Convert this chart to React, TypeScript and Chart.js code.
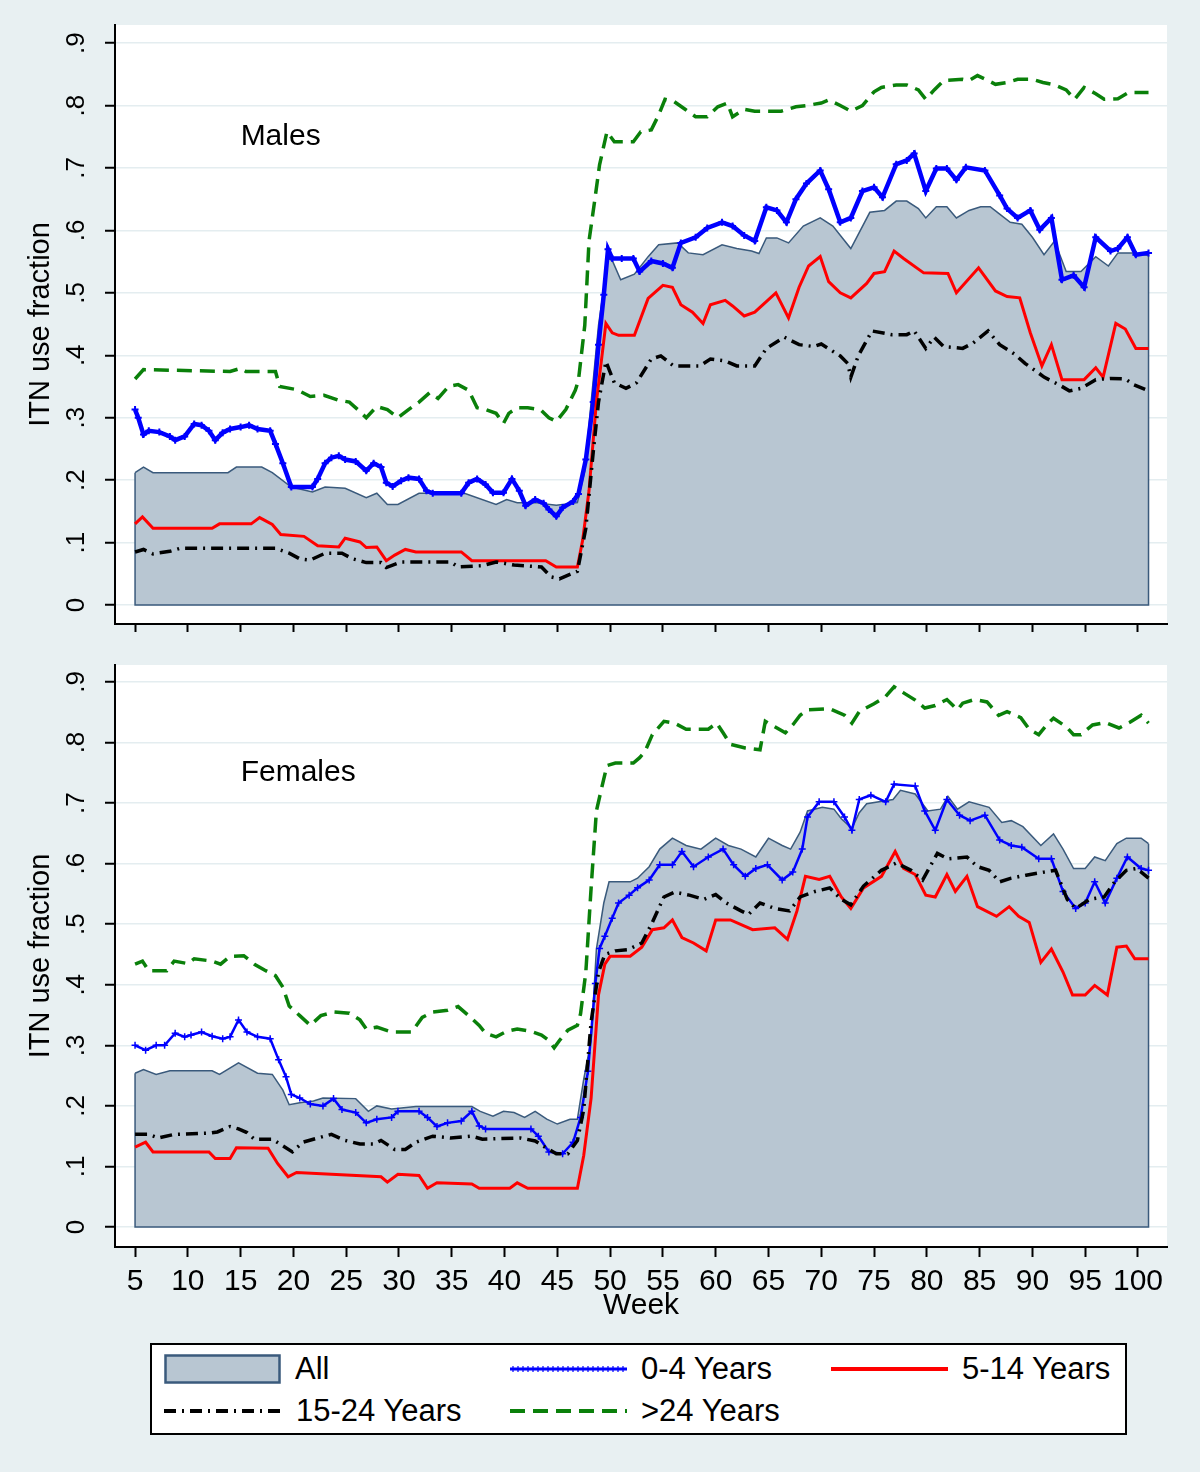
import React, { useEffect, useRef } from 'react';
import { Chart, registerables } from 'chart.js';

Chart.register(...registerables);

type Pair = [number, number];

// ---------- axis ticks / labels ----------
const X_TICKS = [5, 10, 15, 20, 25, 30, 35, 40, 45, 50, 55, 60, 65, 70, 75, 80, 85, 90, 95, 100];
const Y_TICKS = [0, 0.1, 0.2, 0.3, 0.4, 0.5, 0.6, 0.7, 0.8, 0.9];
const SERIES_LABELS = ['All', '0-4 Years', '5-14 Years', '15-24 Years', '>24 Years'];
const PANEL_TITLES = ['Males', 'Females'];
const X_TITLE = 'Week';
const Y_TITLE = 'ITN use fraction';

// ---------- Males: [week, fraction] ----------
const MALE_ALL: Pair[] = [[5,0.212],[5.8,0.221],[6.7,0.212],[13.8,0.212],[14.6,0.221],[17,0.221],[18,0.212],[19.8,0.189],[21.8,0.181],[23,0.189],[24.9,0.187],[26.9,0.172],[27.9,0.179],[28.9,0.161],[29.9,0.161],[31.9,0.179],[36.2,0.179],[39.2,0.161],[40.2,0.169],[41.2,0.164],[42.9,0.164],[44.9,0.16],[46.9,0.164],[47.6,0.215],[48.2,0.325],[48.9,0.448],[49.8,0.555],[50.2,0.552],[51,0.521],[52.3,0.53],[53.6,0.558],[54.6,0.577],[56.4,0.58],[57.4,0.564],[58.8,0.561],[60.6,0.577],[62,0.571],[63.4,0.567],[64.1,0.563],[64.8,0.588],[65.8,0.588],[66.9,0.58],[68.3,0.607],[69.9,0.62],[71.1,0.607],[72.8,0.571],[74.6,0.629],[76,0.632],[77.1,0.647],[78.1,0.647],[79.2,0.635],[79.9,0.62],[80.9,0.638],[81.9,0.638],[82.8,0.62],[84,0.632],[85.1,0.638],[86,0.638],[86.9,0.626],[87.9,0.613],[89,0.61],[90,0.589],[91.1,0.561],[92.1,0.583],[93.2,0.534],[94.6,0.534],[96,0.558],[97.2,0.543],[98.1,0.564],[99.5,0.564],[101,0.56]];
const MALE_0_4: Pair[] = [[5,0.313],[5.3,0.3],[5.8,0.273],[6.3,0.279],[7.3,0.277],[8.3,0.27],[8.8,0.264],[9.7,0.27],[10.6,0.29],[11.3,0.288],[12,0.279],[12.6,0.264],[13.3,0.276],[14,0.282],[15,0.285],[15.8,0.288],[16.6,0.282],[17.8,0.279],[18.3,0.258],[19,0.227],[19.8,0.189],[21.8,0.189],[22.3,0.202],[23,0.227],[23.6,0.236],[24.3,0.239],[24.9,0.233],[25.9,0.23],[26.9,0.215],[27.6,0.227],[28.3,0.221],[28.8,0.196],[29.4,0.19],[30.2,0.199],[30.9,0.204],[31.9,0.202],[32.6,0.183],[33.2,0.179],[35.9,0.179],[36.6,0.196],[37.4,0.202],[38.2,0.193],[38.9,0.18],[39.9,0.18],[40.7,0.202],[41.4,0.183],[42,0.159],[42.9,0.169],[43.7,0.163],[44.2,0.153],[44.9,0.142],[45.5,0.156],[46.5,0.166],[47,0.178],[47.7,0.233],[48.4,0.325],[48.9,0.417],[49.4,0.497],[49.8,0.57],[50.2,0.555],[51.1,0.555],[52.2,0.555],[52.8,0.534],[53.9,0.551],[55,0.547],[55.9,0.54],[56.7,0.58],[58.1,0.589],[59.2,0.604],[60.6,0.613],[61.6,0.607],[62.7,0.592],[63.7,0.583],[64.8,0.637],[65.8,0.632],[66.7,0.613],[67.6,0.65],[68.6,0.675],[69.9,0.696],[70.7,0.666],[71.8,0.613],[72.8,0.62],[73.9,0.663],[75,0.669],[75.8,0.653],[77.1,0.706],[78.1,0.712],[78.8,0.723],[79.9,0.663],[80.9,0.699],[81.9,0.699],[82.8,0.681],[83.7,0.701],[85.5,0.696],[86.9,0.656],[87.6,0.635],[88.6,0.62],[89.8,0.632],[90.7,0.601],[91.8,0.62],[92.8,0.521],[93.9,0.528],[94.9,0.509],[96,0.589],[97.4,0.567],[98.1,0.571],[99,0.589],[99.8,0.561],[101,0.564]];
const MALE_5_14: Pair[] = [[5,0.13],[5.7,0.141],[6.7,0.123],[12.3,0.123],[13,0.13],[16,0.13],[16.8,0.14],[18,0.129],[18.8,0.113],[21,0.11],[22.3,0.095],[24.3,0.093],[24.9,0.107],[26.3,0.101],[26.9,0.092],[27.9,0.093],[28.8,0.071],[29.6,0.08],[30.6,0.089],[31.6,0.085],[35.9,0.085],[36.9,0.071],[43.9,0.071],[44.9,0.061],[46.9,0.061],[47.4,0.104],[48,0.183],[48.7,0.325],[49.6,0.451],[50.2,0.436],[50.8,0.432],[52.3,0.432],[53.6,0.491],[55,0.512],[55.9,0.509],[56.7,0.481],[57.8,0.469],[58.8,0.451],[59.5,0.481],[60.9,0.488],[61.6,0.479],[62.7,0.463],[63.7,0.469],[65.7,0.5],[66.9,0.46],[67.9,0.509],[68.8,0.543],[69.9,0.558],[70.7,0.518],[71.8,0.5],[72.8,0.492],[74.3,0.515],[75,0.531],[76,0.534],[76.9,0.567],[77.8,0.555],[79.7,0.532],[82,0.531],[82.8,0.5],[84.9,0.54],[86.5,0.503],[87.6,0.494],[88.8,0.492],[89.8,0.436],[90.9,0.383],[91.8,0.417],[92.8,0.361],[94.9,0.361],[96,0.38],[96.7,0.365],[97.9,0.451],[98.8,0.442],[99.8,0.411],[101,0.411]];
const MALE_15_24: Pair[] = [[5,0.085],[5.8,0.089],[6.7,0.082],[8.3,0.086],[9.3,0.091],[18.3,0.091],[19.6,0.083],[20.6,0.074],[21.6,0.072],[23,0.083],[24.6,0.083],[25.6,0.074],[26.9,0.068],[28.3,0.068],[28.8,0.06],[30.2,0.069],[34.9,0.069],[35.6,0.061],[37.9,0.063],[39.2,0.069],[40.9,0.064],[43.5,0.061],[44.4,0.045],[45.2,0.042],[46.9,0.054],[47.7,0.123],[48.4,0.245],[48.9,0.325],[49.6,0.39],[50.4,0.356],[51.5,0.347],[52.5,0.356],[53.9,0.394],[54.8,0.399],[56,0.383],[58.5,0.383],[59.5,0.394],[60.9,0.391],[62,0.383],[63.7,0.383],[64.8,0.411],[66.5,0.429],[67.9,0.417],[69.3,0.414],[70,0.418],[71.8,0.399],[72.5,0.387],[72.8,0.365],[73.5,0.399],[74.8,0.439],[76.7,0.433],[78.1,0.433],[78.8,0.439],[79.9,0.411],[80.7,0.429],[81.6,0.414],[83.4,0.411],[84.4,0.42],[85.8,0.439],[86.9,0.417],[88.3,0.402],[89.3,0.387],[90.4,0.374],[91.1,0.365],[92.5,0.353],[93.5,0.343],[94.6,0.347],[96,0.361],[97.4,0.363],[98.8,0.362],[99.6,0.353],[101,0.343]];
const MALE_OVER_24: Pair[] = [[5,0.362],[5.8,0.377],[14,0.374],[15,0.379],[15.5,0.374],[18.3,0.374],[18.7,0.35],[20.3,0.345],[21.6,0.334],[22.9,0.336],[24.3,0.328],[25.3,0.325],[26.1,0.313],[26.9,0.3],[27.9,0.318],[28.9,0.313],[29.9,0.3],[30.9,0.313],[31.9,0.325],[32.9,0.34],[33.7,0.331],[34.7,0.35],[35.6,0.353],[36.6,0.344],[37.4,0.316],[38.2,0.313],[39.2,0.307],[39.9,0.291],[40.4,0.307],[41.2,0.316],[42.2,0.316],[43.4,0.313],[44.2,0.3],[44.9,0.294],[45.8,0.313],[46.7,0.344],[47,0.36],[47.6,0.448],[48,0.583],[48.5,0.643],[49,0.705],[49.7,0.758],[50.4,0.742],[52.2,0.742],[52.9,0.758],[53.9,0.761],[54.6,0.785],[55.2,0.81],[56,0.807],[57.1,0.794],[58.1,0.782],[59.2,0.782],[60.2,0.798],[61.1,0.804],[61.6,0.782],[62.7,0.794],[63.7,0.791],[66.2,0.791],[67.6,0.798],[68.6,0.8],[70,0.804],[70.7,0.809],[71.8,0.8],[72.8,0.791],[73.9,0.8],[75,0.822],[75.7,0.829],[77.1,0.833],[78.1,0.833],[79.2,0.825],[79.9,0.81],[80.7,0.825],[81.6,0.84],[83.4,0.842],[84,0.84],[84.8,0.848],[85.8,0.84],[86.5,0.834],[87.6,0.837],[88.6,0.842],[90,0.842],[91,0.837],[92.1,0.833],[93.2,0.825],[94,0.81],[94.9,0.829],[96,0.819],[96.8,0.81],[98.1,0.811],[99.1,0.821],[101,0.821]];

// ---------- Females: [week, fraction] ----------
const FEMALE_ALL: Pair[] = [[5,0.254],[5.8,0.26],[7,0.252],[8.3,0.258],[12.3,0.258],[13,0.252],[14.8,0.271],[16.6,0.254],[18,0.252],[19,0.226],[19.6,0.202],[20.6,0.205],[21.9,0.208],[22.8,0.213],[25.9,0.212],[27.1,0.191],[27.9,0.2],[29.3,0.195],[31.6,0.199],[36.9,0.199],[37.7,0.191],[38.9,0.183],[39.9,0.191],[40.9,0.189],[41.9,0.181],[42.9,0.191],[44,0.178],[45,0.17],[46.2,0.178],[46.9,0.178],[47.5,0.244],[48.2,0.308],[48.7,0.459],[49.4,0.535],[49.9,0.57],[51.9,0.57],[52.6,0.576],[53.7,0.595],[54.7,0.624],[55.9,0.642],[57.2,0.63],[58.6,0.624],[60,0.642],[61.2,0.63],[62.4,0.624],[63.8,0.611],[65,0.642],[66.3,0.63],[67.1,0.624],[68,0.652],[68.7,0.687],[70.1,0.693],[71.2,0.69],[71.9,0.674],[72.9,0.658],[73.6,0.684],[74.3,0.699],[76.8,0.706],[77.5,0.721],[78.9,0.715],[80.1,0.687],[81.3,0.69],[82,0.711],[82.9,0.69],[84,0.702],[85.9,0.693],[87.1,0.668],[88,0.671],[89.1,0.661],[90.8,0.63],[92,0.649],[92.9,0.624],[93.9,0.592],[95,0.592],[95.9,0.611],[96.9,0.605],[98,0.633],[98.9,0.642],[100.3,0.642],[101,0.633]];
const FEMALE_0_4: Pair[] = [[5,0.3],[6,0.292],[7,0.3],[7.8,0.3],[8.8,0.32],[9.7,0.314],[10.3,0.317],[11.3,0.322],[12.3,0.315],[13.3,0.311],[14,0.314],[14.8,0.342],[15.6,0.322],[16.6,0.314],[17.8,0.311],[18.6,0.276],[19.3,0.248],[19.8,0.219],[20.6,0.213],[21.6,0.203],[22.8,0.2],[23.8,0.212],[24.6,0.194],[25.9,0.189],[26.9,0.172],[27.9,0.178],[29.3,0.181],[29.9,0.191],[31.9,0.191],[32.7,0.181],[33.6,0.166],[34.6,0.172],[35.9,0.175],[36.9,0.191],[37.6,0.167],[38.2,0.162],[42.5,0.162],[43.2,0.15],[44.2,0.124],[45.5,0.121],[46.5,0.14],[47.2,0.181],[47.9,0.257],[48.6,0.402],[49,0.46],[49.5,0.48],[50.2,0.51],[50.8,0.535],[51.8,0.548],[52.6,0.56],[53.7,0.573],[54.7,0.598],[55.9,0.598],[56.8,0.62],[57.9,0.595],[59.3,0.611],[60.7,0.624],[61.7,0.598],[62.8,0.579],[63.8,0.592],[64.9,0.598],[66.3,0.573],[67.3,0.586],[68.2,0.624],[68.7,0.677],[69.8,0.702],[71.2,0.702],[72.2,0.677],[72.9,0.655],[73.6,0.706],[74.7,0.713],[76.1,0.702],[76.9,0.731],[78.9,0.728],[79.8,0.687],[80.8,0.655],[81.9,0.706],[83.1,0.68],[84.1,0.671],[85.5,0.68],[86.9,0.639],[88,0.63],[89,0.627],[90.6,0.608],[91.8,0.608],[92.9,0.554],[94.1,0.526],[95,0.535],[95.9,0.57],[96.9,0.535],[98,0.576],[99,0.611],[100.3,0.592],[101,0.589]];
const FEMALE_5_14: Pair[] = [[5,0.132],[6,0.14],[6.7,0.124],[12,0.124],[12.6,0.113],[14,0.113],[14.6,0.131],[17.6,0.13],[18.5,0.105],[19.5,0.083],[20.3,0.09],[28.3,0.083],[28.9,0.074],[29.9,0.087],[31.9,0.085],[32.7,0.064],[33.6,0.073],[36.9,0.071],[37.6,0.064],[40.5,0.064],[41.2,0.073],[42.2,0.064],[46.9,0.064],[47.5,0.118],[48.2,0.213],[48.9,0.383],[49.5,0.434],[50,0.447],[51.9,0.447],[53,0.462],[54,0.491],[55.1,0.494],[55.9,0.507],[56.8,0.478],[57.9,0.469],[59.1,0.456],[60,0.507],[61.4,0.507],[63.5,0.491],[65.6,0.494],[66.8,0.475],[67.7,0.522],[68.5,0.579],[69.8,0.574],[70.8,0.579],[71.9,0.545],[72.8,0.526],[74,0.56],[75.7,0.579],[77,0.62],[77.8,0.592],[78.9,0.582],[79.9,0.548],[80.8,0.545],[81.9,0.582],[82.7,0.554],[83.8,0.579],[84.8,0.529],[86.6,0.513],[87.8,0.529],[88.7,0.513],[89.7,0.503],[90.8,0.437],[91.8,0.459],[92.9,0.421],[93.8,0.383],[95,0.383],[95.9,0.399],[97.1,0.383],[98,0.462],[98.9,0.464],[99.7,0.443],[101,0.443]];
const FEMALE_15_24: Pair[] = [[5,0.153],[6.3,0.153],[7.2,0.147],[8.7,0.153],[12,0.155],[12.8,0.157],[14,0.166],[14.8,0.162],[15.6,0.156],[16.3,0.145],[18,0.145],[19,0.134],[19.9,0.124],[20.9,0.14],[22.3,0.147],[23.6,0.153],[24.9,0.143],[26.3,0.137],[27.6,0.137],[28.3,0.143],[29.6,0.128],[30.6,0.128],[31.6,0.14],[33.2,0.15],[34.9,0.147],[36.9,0.15],[37.9,0.145],[41.5,0.147],[42.9,0.142],[43.9,0.131],[44.9,0.121],[46,0.121],[46.9,0.143],[47.5,0.194],[48.2,0.339],[48.9,0.421],[49.5,0.45],[50.5,0.456],[51.7,0.458],[53,0.469],[54,0.503],[55.1,0.545],[56.1,0.553],[57.5,0.548],[58.9,0.541],[60,0.549],[61,0.535],[62.4,0.522],[63.1,0.516],[64.2,0.535],[65.6,0.526],[67,0.522],[68,0.545],[69.4,0.554],[70.8,0.56],[71.9,0.541],[72.8,0.532],[74,0.563],[75.7,0.589],[77.1,0.601],[78.5,0.589],[79.6,0.573],[81,0.617],[82,0.608],[83.8,0.611],[84.8,0.595],[85.9,0.589],[86.9,0.57],[88,0.576],[89.4,0.581],[91.1,0.586],[92.2,0.589],[93.3,0.541],[94.1,0.526],[95.4,0.541],[96.8,0.545],[97.8,0.57],[98.9,0.589],[99.9,0.592],[101,0.576]];
const FEMALE_OVER_24: Pair[] = [[5,0.434],[5.7,0.439],[6.3,0.423],[8,0.423],[8.7,0.439],[10,0.435],[10.6,0.443],[12.3,0.439],[13.1,0.434],[14,0.447],[15.3,0.448],[16.3,0.434],[17.3,0.424],[18.3,0.415],[19,0.396],[19.6,0.365],[20.6,0.349],[21.6,0.333],[22.6,0.349],[23.8,0.355],[25.3,0.353],[26.3,0.342],[26.9,0.327],[27.9,0.33],[29.3,0.322],[31.2,0.322],[32.2,0.346],[33.2,0.355],[34.6,0.358],[35.6,0.364],[36.6,0.349],[37.6,0.333],[38.2,0.32],[39.2,0.314],[40.2,0.323],[41.2,0.327],[42.5,0.323],[43.5,0.317],[44.2,0.308],[44.7,0.296],[45.2,0.308],[46,0.325],[46.9,0.333],[47.2,0.352],[47.7,0.421],[48.2,0.56],[48.7,0.687],[49.2,0.725],[49.7,0.762],[50.5,0.766],[52.2,0.766],[52.8,0.775],[53.3,0.785],[54,0.813],[55.1,0.835],[56.1,0.832],[57.2,0.822],[59.3,0.822],[60.1,0.832],[60.7,0.816],[61.4,0.797],[62.8,0.791],[64.2,0.788],[64.7,0.835],[65.6,0.826],[66.6,0.816],[67.3,0.829],[68,0.845],[68.7,0.854],[70.8,0.856],[72.2,0.845],[72.9,0.832],[73.6,0.851],[75,0.864],[76.1,0.876],[76.9,0.892],[77.8,0.882],[78.9,0.87],[79.8,0.857],[80.8,0.861],[81.9,0.871],[82.9,0.854],[83.4,0.865],[84.5,0.871],[85.7,0.867],[86.8,0.845],[87.6,0.851],[88.9,0.841],[89.7,0.822],[90.6,0.813],[91.5,0.832],[92,0.84],[93.2,0.826],[93.9,0.813],[94.6,0.813],[95.7,0.829],[96.9,0.833],[98.2,0.824],[99.2,0.833],[100.3,0.845],[101,0.832]];

// ---------- styling ----------
const FONT = '"Liberation Sans", Arial, Helvetica, sans-serif';
const PAGE_BG = '#e8f0f2';
const GRID = '#e4edf0';
const AREA_FILL = '#b8c6d2';
const AREA_LINE = '#3a5a7c';
const BLUE = '#0000ff';
const RED = '#ff0000';
const GREEN = '#0a800a';
const BLACK = '#000000';
const DASH_DOT = [12, 6, 2, 6];
const DASHED = [15, 8];

const xy = (p: Pair[]) => p.map(([x, y]) => ({ x, y }));

const whiteArea = {
  id: 'whiteArea',
  beforeDraw(chart: any) {
    const { ctx, chartArea: a } = chart;
    ctx.save();
    ctx.fillStyle = '#ffffff';
    ctx.fillRect(a.left, a.top, a.right - a.left, a.bottom - a.top);
    ctx.restore();
  },
};

const areaOutline = {
  id: 'areaOutline',
  afterDatasetDraw(chart: any, args: any) {
    const ds = chart.data.datasets[args.index];
    if (ds.label !== SERIES_LABELS[0]) return;
    const pts = args.meta.data;
    if (!pts || !pts.length) return;
    const y0 = chart.scales.y.getPixelForValue(0);
    const f = pts[0];
    const l = pts[pts.length - 1];
    const ctx = chart.ctx;
    ctx.save();
    ctx.strokeStyle = AREA_LINE;
    ctx.lineWidth = 1.5;
    ctx.beginPath();
    ctx.moveTo(f.x, f.y);
    ctx.lineTo(f.x, y0);
    ctx.lineTo(l.x, y0);
    ctx.lineTo(l.x, l.y);
    ctx.stroke();
    ctx.restore();
  },
};

const panelLabel = {
  id: 'panelLabel',
  afterDatasetsDraw(chart: any, _args: any, opts: any) {
    const { ctx, scales } = chart;
    ctx.save();
    ctx.font = `30px ${FONT}`;
    ctx.fillStyle = '#000';
    ctx.textAlign = 'left';
    ctx.textBaseline = 'middle';
    ctx.fillText(opts.text, scales.x.getPixelForValue(opts.x), scales.y.getPixelForValue(opts.y));
    ctx.restore();
  },
};

function buildDatasets(all: Pair[], a04: Pair[], a514: Pair[], a1524: Pair[], a24: Pair[], top: boolean) {
  return [
    { label: SERIES_LABELS[4], data: xy(a24), borderColor: GREEN, borderWidth: 3.5, borderDash: DASHED, pointRadius: 0, fill: false, order: 1 },
    { label: SERIES_LABELS[3], data: xy(a1524), borderColor: BLACK, borderWidth: 3.5, borderDash: DASH_DOT, pointRadius: 0, fill: false, order: 2 },
    { label: SERIES_LABELS[2], data: xy(a514), borderColor: RED, borderWidth: 3, pointRadius: 0, fill: false, order: 3 },
    {
      label: SERIES_LABELS[1], data: xy(a04), borderColor: BLUE, borderWidth: top ? 4.5 : 2.5,
      pointStyle: 'cross', pointRadius: 3.5, pointBorderWidth: top ? 2 : 1.5, pointBorderColor: BLUE, pointBackgroundColor: BLUE,
      fill: false, order: 4,
    },
    { label: SERIES_LABELS[0], data: xy(all), borderColor: AREA_LINE, borderWidth: 1.5, backgroundColor: AREA_FILL, fill: 'origin', pointRadius: 0, order: 5 },
  ];
}

function makeConfig(p: {
  title: string; padTop: number; xHeight: number; xTickLen: number; showX: boolean; yMin: number; yMax: number;
  datasets: any[];
}) {
  return {
    type: 'line' as const,
    data: { datasets: p.datasets },
    plugins: [whiteArea, areaOutline, panelLabel],
    options: {
      responsive: false,
      animation: false,
      events: [],
      parsing: false,
      layout: { padding: { top: p.padTop, right: 33, left: 0, bottom: 0 } },
      elements: { line: { tension: 0 } },
      plugins: {
        legend: { display: false },
        tooltip: { enabled: false },
        panelLabel: { text: p.title, x: 15, y: 0.75 },
      },
      scales: {
        x: {
          type: 'linear',
          min: 3.1,
          max: 102.75,
          afterBuildTicks: (s: any) => { s.ticks = X_TICKS.map((v) => ({ value: v })); },
          afterFit: (s: any) => { s.height = p.xHeight; s.paddingLeft = 0; s.paddingRight = 0; },
          grid: { drawOnChartArea: false, drawTicks: true, tickLength: p.xTickLen, tickColor: '#000', tickWidth: 2 },
          border: { display: true, color: '#000', width: 2 },
          ticks: {
            display: p.showX, autoSkip: false, maxRotation: 0, minRotation: 0, padding: 7, color: '#000',
            font: { size: 30, family: FONT }, callback: (v: any) => String(v),
          },
          title: { display: p.showX, text: X_TITLE, color: '#000', font: { size: 30, family: FONT }, padding: { top: 0, bottom: 6 } },
        },
        y: {
          type: 'linear',
          min: p.yMin,
          max: p.yMax,
          afterBuildTicks: (s: any) => { s.ticks = Y_TICKS.map((v) => ({ value: v })); },
          afterFit: (s: any) => { s.width = 115; s.paddingTop = 0; s.paddingBottom = 0; },
          grid: { color: GRID, lineWidth: 1.5, drawTicks: true, tickLength: 10, tickColor: '#000', tickWidth: 2 },
          border: { display: true, color: '#000', width: 2 },
          ticks: {
            minRotation: 90, maxRotation: 90, crossAlign: 'center', padding: 17, color: '#000',
            font: { size: 26, family: FONT },
            callback: (v: any) => (v === 0 ? '0' : '.' + Math.round(v * 10)),
          },
          title: { display: true, text: Y_TITLE, color: '#000', font: { size: 29, family: FONT }, padding: { top: 24, bottom: 0 } },
        },
      },
    },
  };
}

function LegendSwatch({ kind }: { kind: string }) {
  const w = 117;
  const h = 30;
  const mid = h / 2;
  if (kind === 'area') {
    return (
      <svg width={w} height={h}>
        <rect x={1.5} y={1.5} width={w - 3} height={h - 3} fill={AREA_FILL} stroke={AREA_LINE} strokeWidth={2.5} />
      </svg>
    );
  }
  if (kind === 'blue') {
    const crosses = [];
    for (let x = 3; x < w; x += 5) {
      crosses.push(<line key={x} x1={x} y1={mid - 3} x2={x} y2={mid + 3} stroke={BLUE} strokeWidth={1.2} />);
    }
    return (
      <svg width={w} height={h}>
        <line x1={0} y1={mid} x2={w} y2={mid} stroke={BLUE} strokeWidth={3} />
        {crosses}
      </svg>
    );
  }
  const stroke = kind === 'red' ? RED : kind === 'green' ? GREEN : BLACK;
  const dash = kind === 'green' ? DASHED.join(' ') : kind === 'black' ? DASH_DOT.join(' ') : undefined;
  return (
    <svg width={w} height={h}>
      <line x1={0} y1={mid} x2={w} y2={mid} stroke={stroke} strokeWidth={4} strokeDasharray={dash} />
    </svg>
  );
}

const LEGEND_LAYOUT = [
  { kind: 'area', sx: 164, tx: 295, cy: 1369, label: SERIES_LABELS[0] },
  { kind: 'blue', sx: 510, tx: 641, cy: 1369, label: SERIES_LABELS[1] },
  { kind: 'red', sx: 831, tx: 962, cy: 1369, label: SERIES_LABELS[2] },
  { kind: 'black', sx: 164, tx: 296, cy: 1411, label: SERIES_LABELS[3] },
  { kind: 'green', sx: 510, tx: 641, cy: 1411, label: SERIES_LABELS[4] },
];

export default function App() {
  const topRef = useRef<HTMLCanvasElement | null>(null);
  const botRef = useRef<HTMLCanvasElement | null>(null);

  useEffect(() => {
    const charts: Chart[] = [];
    if (topRef.current) {
      charts.push(new Chart(topRef.current, makeConfig({
        title: PANEL_TITLES[0], padTop: 25, xHeight: 26, xTickLen: 8, showX: false, yMin: -0.0304, yMax: 0.929,
        datasets: buildDatasets(MALE_ALL, MALE_0_4, MALE_5_14, MALE_15_24, MALE_OVER_24, true),
      }) as any));
    }
    if (botRef.current) {
      charts.push(new Chart(botRef.current, makeConfig({
        title: PANEL_TITLES[1], padTop: 15, xHeight: 83, xTickLen: 10, showX: true, yMin: -0.033, yMax: 0.928,
        datasets: buildDatasets(FEMALE_ALL, FEMALE_0_4, FEMALE_5_14, FEMALE_15_24, FEMALE_OVER_24, false),
      }) as any));
    }
    return () => { charts.forEach((c) => c.destroy()); };
  }, []);

  return (
    <div style={{ position: 'absolute', left: 0, top: 0, width: 1200, height: 1472, background: PAGE_BG, overflow: 'hidden', fontFamily: FONT }}>
      <canvas ref={topRef} width={1200} height={650} style={{ position: 'absolute', left: 0, top: 0 }} />
      <canvas ref={botRef} width={1200} height={680} style={{ position: 'absolute', left: 0, top: 650 }} />
      <div style={{ position: 'absolute', left: 150, top: 1343, width: 977, height: 92, boxSizing: 'border-box', border: '2px solid #000', background: '#fff' }} />
      {LEGEND_LAYOUT.map((it) => (
        <React.Fragment key={it.label}>
          <div style={{ position: 'absolute', left: it.sx, top: it.cy - 15, width: 117, height: 30 }}>
            <LegendSwatch kind={it.kind} />
          </div>
          <div style={{ position: 'absolute', left: it.tx, top: it.cy - 20, height: 40, lineHeight: '40px', fontSize: 31, color: '#000', whiteSpace: 'nowrap' }}>
            {it.label}
          </div>
        </React.Fragment>
      ))}
    </div>
  );
}
